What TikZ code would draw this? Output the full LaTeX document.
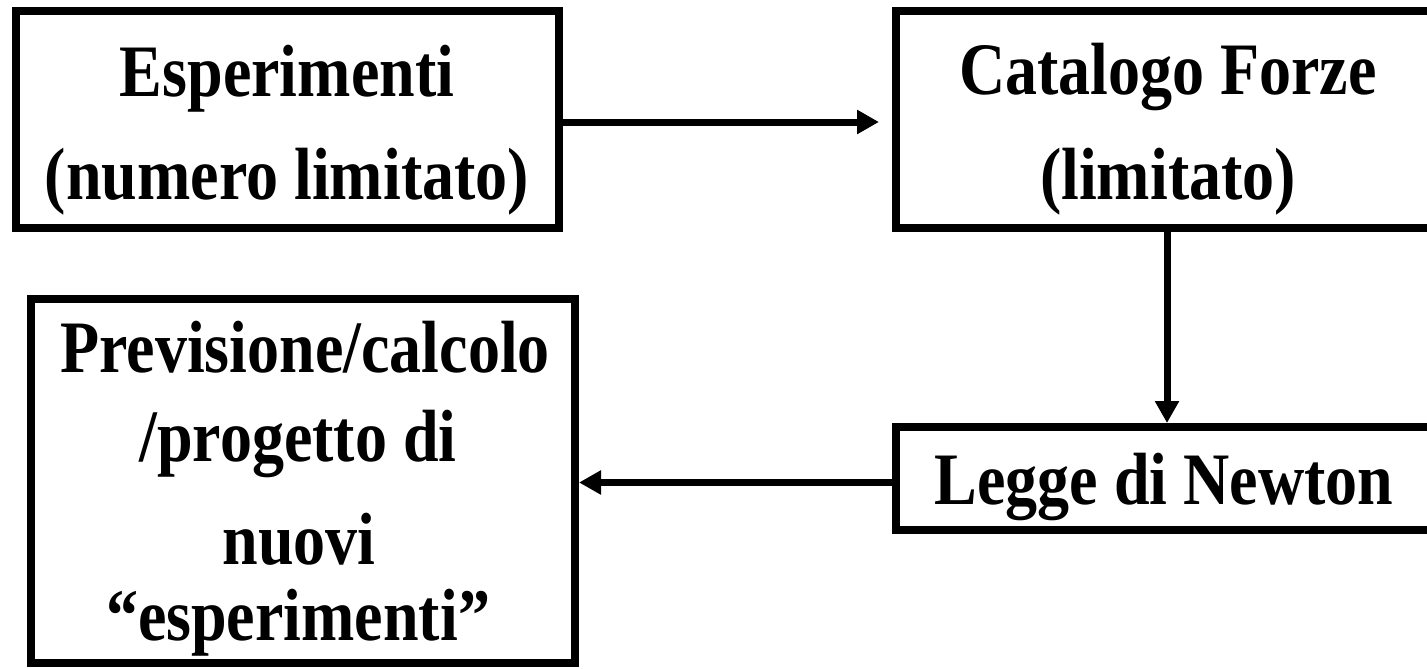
\documentclass[tikz,border=0pt]{standalone}
\usepackage{fontspec}
\setmainfont{Liberation Serif}[FakeStretch=0.865]
\usetikzlibrary{arrows.meta}
\tikzset{
  box/.style={draw=black, line width=8pt, rectangle, inner sep=0pt, fill=none},
  txt/.style={anchor=base, inner sep=0pt, font=\fontsize{74}{74}\selectfont\bfseries},
  conn/.style={line width=7pt, -{Triangle[length=22pt,width=23pt]}}
}
\begin{document}
\begin{tikzpicture}[x=1pt,y=-1pt]
\useasboundingbox (0,0) rectangle (1427,669);
\begin{scope}
\clip (0,0) rectangle (1427,669);
% boxes
\node[box, minimum width=543pt, minimum height=217pt] (esp) at (287.5,119.5) {};
\node[box, minimum width=560pt, minimum height=217pt] (cat) at (1176,119.5) {};
\node[box, minimum width=544pt, minimum height=364pt] (prev) at (303,481) {};
\node[box, minimum width=560pt, minimum height=103pt] (leg) at (1176,478.5) {};
% texts
\node[txt] (esp1) at (287,96) {Esperimenti};
\node[txt] (esp2) at (287,199) {(numero limitato)};
\node[txt] (cat1) at (1168,95) {Catalogo Forze};
\node[txt] (cat2) at (1168,199) {(limitato)};
\node[txt] (prev1) at (305,372) {Previsione/calcolo};
\node[txt] (prev2) at (298,461) {/progetto di};
\node[txt] (prev3) at (299,564) {nuovi};
\node[txt] (prev4) at (298,640) {``esperimenti''};
\node[txt] (leg1) at (1164,504) {Legge di Newton};
% connectors
\draw[conn, shorten >=13pt] ([yshift=-2.5pt]esp.east) -- ([yshift=-2.5pt]esp.east -| cat.west);
\draw[conn] (cat.south -| 1167,0) -- (leg.north -| 1167,0);
\draw[conn] ([yshift=-4pt]leg.west) -- ([yshift=-4pt]leg.west -| prev.east);
\end{scope}
\end{tikzpicture}
\end{document}
